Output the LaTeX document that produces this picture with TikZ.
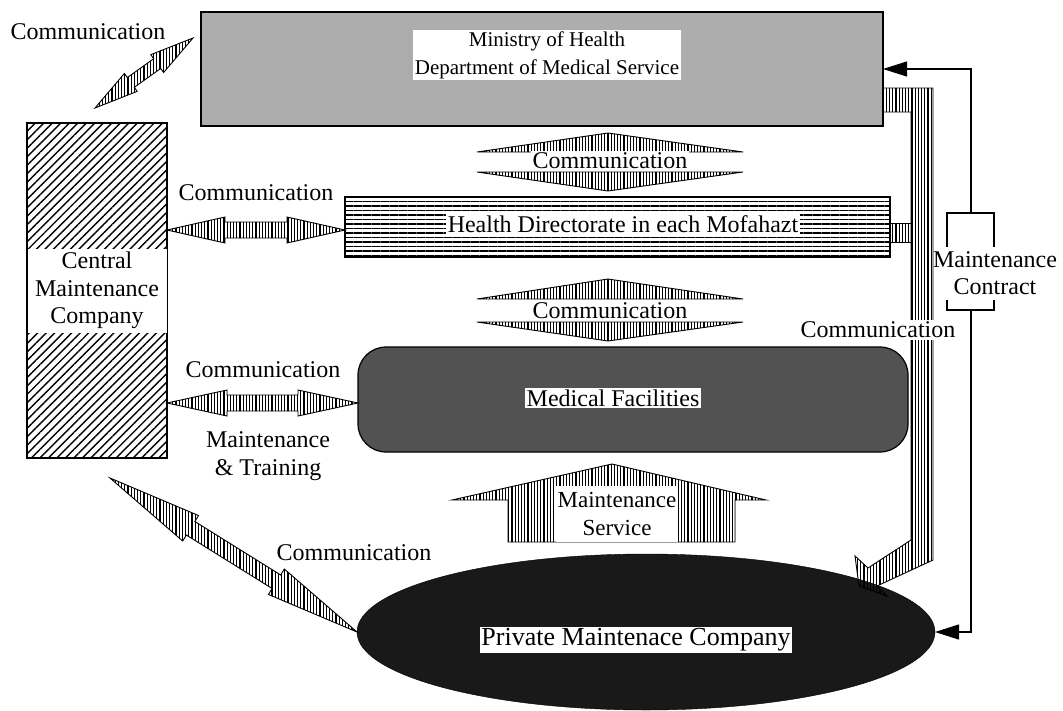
\documentclass[tikz,border=0pt]{standalone}
\usepackage{fontspec}
\setmainfont{Liberation Serif}
\usetikzlibrary{calc,patterns.meta,arrows.meta,shapes.geometric}

% double-headed fat arrow between two named points
% #1 style, #2 from, #3 to, #4 head length, #5 head half width, #6 shaft half width
\newcommand\fatarrow[6]{%
  \path[#1] (#2)
    -- ($(#2)!#4!(#3)!#5!90:(#3)$) -- ($(#2)!#4!(#3)!#6!90:(#3)$)
    -- ($(#3)!#4!(#2)!#6!-90:(#2)$) -- ($(#3)!#4!(#2)!#5!-90:(#2)$)
    -- (#3)
    -- ($(#3)!#4!(#2)!#5!90:(#2)$) -- ($(#3)!#4!(#2)!#6!90:(#2)$)
    -- ($(#2)!#4!(#3)!#6!-90:(#3)$) -- ($(#2)!#4!(#3)!#5!-90:(#3)$)
    -- cycle;}

\begin{document}
\begin{tikzpicture}[x=1pt,y=-1pt,
  txt/.style={font=\fontsize{24}{27.5}\selectfont, inner sep=1.5pt, align=center},
  wtxt/.style={txt, fill=white},
  stripes/.style={draw=black, line width=0.9pt,
    pattern={Lines[angle=90,distance=3.2pt,line width=1.1pt]}},
  boxnode/.style={draw=black, line width=1.2pt, inner sep=0pt, outer sep=0pt},
  ministry/.style={boxnode, fill=black!32},
  hatched/.style={boxnode, pattern={Lines[angle=45,distance=6pt,line width=1.4pt]}},
  hlines/.style={boxnode, pattern={Lines[angle=0,distance=4.5pt,line width=1.1pt]}},
  facility/.style={boxnode, fill=black!68, rounded corners=28pt},
  privco/.style={ellipse, fill=black!90, draw=black, inner sep=0pt, outer sep=0pt},
  contract/.style={draw=black, line width=1.1pt},
  tip/.style={-{Triangle[length=24pt,width=15pt]}}
]
\useasboundingbox (0,0) rectangle (1063,710);

% ---------- boxes ----------
\node[ministry, minimum width=682pt, minimum height=114pt] (moh) at (542,69) {};
\node[hatched, minimum width=140pt, minimum height=335pt] (cmc) at (97,290.5) {};
\node[hlines, minimum width=545pt, minimum height=60pt] (hd) at (617.5,227) {};
\node[facility, minimum width=550pt, minimum height=105pt] (mf) at (633,399.5) {};
\node[privco, minimum width=578pt, minimum height=156pt] (pmc) at (646,632) {};

% ---------- box texts ----------
\node[wtxt, font=\fontsize{21}{28}\selectfont] at (547,55)
  {Ministry of Health\\Department of Medical Service};
\node[txt, fill=white, minimum width=139pt, minimum height=84pt] at (cmc.center)
  {Central\\Maintenance\\Company};
\node[wtxt] at (623,224) {Health Directorate in each Mofahazt};
\node[wtxt] at (613,398) {Medical Facilities};
\node[wtxt, font=\fontsize{26}{30}\selectfont] at (636,640) {Private Maintenace Company};

% ---------- Central <-> Ministry ----------
\coordinate (a1s) at (95,108);
\coordinate (a1e) at (193,38);
\fatarrow{stripes}{a1s}{a1e}{44pt}{11pt}{6pt}
\node[txt] at (88,32) {Communication};

% ---------- Central <-> Health Directorate ----------
\coordinate (a2s) at (cmc.east |- 0,230);
\coordinate (a2e) at (hd.west |- 0,230);
\fatarrow{stripes}{a2s}{a2e}{58pt}{13pt}{8pt}
\node[txt] at (256,193) {Communication};

% ---------- Central <-> Medical Facilities ----------
\coordinate (a3s) at (cmc.east |- 0,403);
\coordinate (a3e) at (mf.west |- 0,403);
\fatarrow{stripes}{a3s}{a3e}{60pt}{13pt}{8pt}
\node[txt] at (263,370) {Communication};
\node[txt] at (268,456) {Maintenance\\\& Training};

% ---------- Central <-> Private company ----------
\coordinate (a4s) at (110,478);
\fatarrow{stripes}{a4s}{pmc.west}{95pt}{15pt}{8pt}
\node[txt] at (354,553) {Communication};

% ---------- Ministry <-> Health Directorate ----------
\path[stripes] (477,152) -- (608,133) -- (743,152) -- cycle;
\path[stripes] (477,172) -- (608,191) -- (743,172) -- cycle;
\node[wtxt] at (610,161) {Communication};

% ---------- Health Directorate <-> Medical Facilities ----------
\path[stripes] (477,299) -- (608,279) -- (743,299) -- cycle;
\path[stripes] (477,322) -- (608,341) -- (743,322) -- cycle;
\node[wtxt] at (610,311) {Communication};

% ---------- Private company -> Medical Facilities ----------
\path[stripes] (612,464) -- (766,500) -- (735,500) -- (735,542)
  -- (508,542) -- (508,500) -- (452,500) -- cycle;
\node[wtxt, font=\fontsize{23}{28}\selectfont, minimum width=122pt, minimum height=56pt]
  at (617,514) {Maintenance\\Service};

% ---------- Ministry / Health Directorate -> Private company ----------
\path[stripes] (moh.east |- 0,88) -- (933,88) -- (933,560) -- (877,586)
  -- (887,596) -- (859,586) -- (855,556) -- (868,568) -- (911,540)
  -- (911,112) -- (moh.east |- 0,112) -- cycle;
\path[stripes] (hd.east |- 0,223) rectangle (911,242);
\node[wtxt] at (878,330) {Communication};

% ---------- maintenance contract ----------
\coordinate (kt) at (971,213);
\coordinate (kb) at (971,310);
\draw[contract, tip] (kt) |- (moh.east);
\draw[contract, tip] (kb) |- (pmc.east);
\draw[contract] (947,247) -- (947,213) -- (994,213) -- (994,247);
\draw[contract] (947,300) -- (947,310) -- (994,310) -- (994,300);
\node[txt] at (995,273) {Maintenance\\Contract};
\end{tikzpicture}
\end{document}
